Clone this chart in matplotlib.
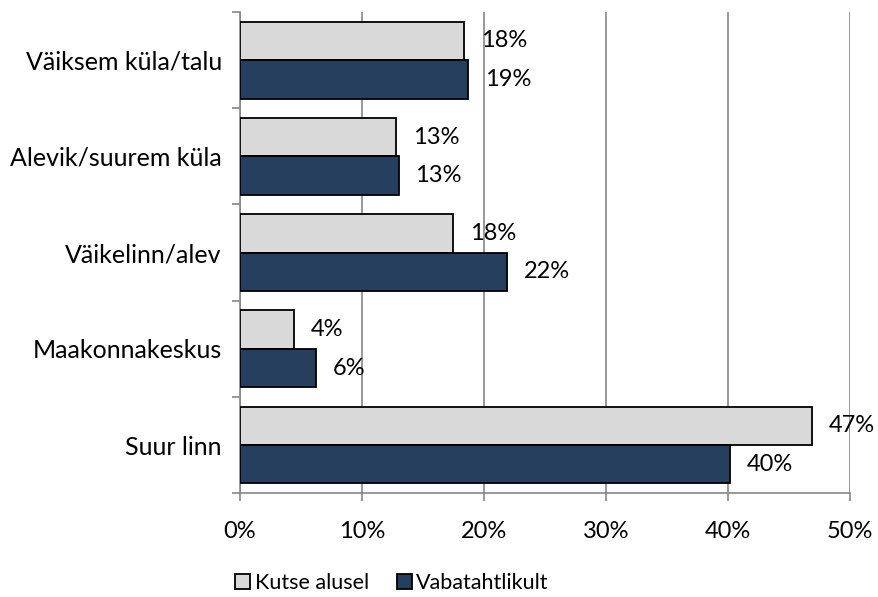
import numpy as np
import matplotlib.pyplot as plt
from matplotlib.ticker import MultipleLocator, FuncFormatter

# ── Data ────────────────────────────────────────────────────────────────────
categories = ["Suur linn", "Maakonnakeskus", "Väikelinn/alev",
              "Alevik/suurem küla", "Väiksem küla/talu"]
kutse_alusel = [46.9, 4.4, 17.5, 12.8, 18.4]
vabatahtlikult = [40.2, 6.2, 21.9, 13.0, 18.7]
series_names = ["Kutse alusel", "Vabatahtlikult"]

plt.rcParams["font.family"] = ["Lato", "DejaVu Sans"]
FS = 17

fig = plt.figure(figsize=(8.79, 5.97), dpi=100)
ax = fig.add_axes([0.273, 0.174, 0.694, 0.806])

y = np.arange(len(categories))
h = 0.4
grid_col = "#868686"

b1 = ax.barh(y + h / 2, kutse_alusel, h, color="#d9d9d9",
             edgecolor="black", linewidth=1.3, label=series_names[0], zorder=3)
b2 = ax.barh(y - h / 2, vabatahtlikult, h, color="#263f5f",
             edgecolor="black", linewidth=1.3, label=series_names[1], zorder=3)

for bars, vals in ((b1, kutse_alusel), (b2, vabatahtlikult)):
    for bar, v in zip(bars, vals):
        ax.annotate(f"{v:.0f}%", (v, bar.get_y() + bar.get_height() / 2),
                    xytext=(12, 0), textcoords="offset points",
                    va="center", ha="left", fontsize=FS, color="black")

ax.set_xlim(0, 50)
ax.set_ylim(-0.5, len(categories) - 0.5)
ax.xaxis.set_major_locator(MultipleLocator(10))
ax.xaxis.set_major_formatter(FuncFormatter(lambda v, p: f"{v:.0f}%"))
ax.grid(axis="x", color=grid_col, linewidth=1.2, zorder=0)

ax.set_yticks(y)
ax.set_yticklabels(categories)
ax.set_yticks(np.arange(len(categories) + 1) - 0.5, minor=True)
ax.tick_params(axis="y", which="major", length=0, pad=13, labelsize=18)
ax.tick_params(axis="y", which="minor", length=6, color=grid_col, width=1.2)
ax.tick_params(axis="x", length=6, color=grid_col, width=1.2, pad=14, labelsize=FS)

for s in ("top", "right"):
    ax.spines[s].set_visible(False)
for s in ("left", "bottom"):
    ax.spines[s].set_color(grid_col)
    ax.spines[s].set_linewidth(1.2)

fig.legend(handles=[b1, b2], labels=series_names, loc="center",
           bbox_to_anchor=(0.446, 0.023), ncol=2, frameon=False, fontsize=15.5,
           handlelength=0.7, handleheight=0.7, handletextpad=0.2,
           columnspacing=1.3, borderpad=0)

fig.savefig("out.png", dpi=100)
